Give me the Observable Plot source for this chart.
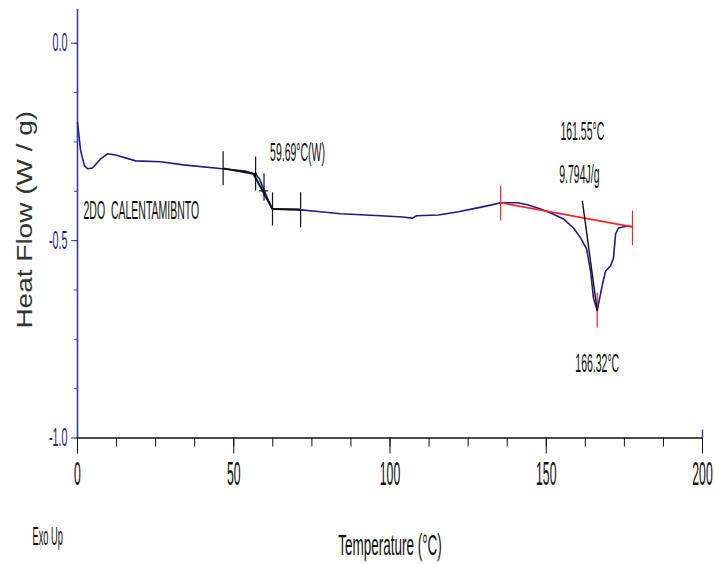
<!DOCTYPE html>
<html>
<head>
<meta charset="utf-8">
<script src="https://cdn.jsdelivr.net/npm/d3@7"></script>
<script src="https://cdn.jsdelivr.net/npm/@observablehq/plot@0.6"></script>
<style>
  body { margin: 0; background: #fff; }
</style>
</head>
<body>
<script>
// DSC second heating run: temperature (°C) vs heat flow (W/g)
const temperature = [
  0, 1.0, 2.2, 3.2, 4.8, 7.4, 9.6, 12.2, 18.6, 26.6, 33.9, 46.4, 53.8, 57.0, 58.2,
  59.7, 61.1, 62.4, 71.4, 77.8, 84.2, 97.0, 104.0, 107.2, 108.5, 115.5, 121.9, 128.0,
  132.2, 135.4, 140.8, 144.0, 148.2, 151.4, 155.5, 158.7, 161.0, 162.9, 164.2, 165.1,
  166.32, 166.7, 168.0, 169.0, 170.6, 171.5, 172.2, 173.1, 176.0, 177.6
];
const heatFlow = [
  -0.201, -0.272, -0.310, -0.318, -0.316, -0.293, -0.280, -0.283, -0.298, -0.300, -0.308, -0.318, -0.324, -0.332, -0.343,
  -0.372, -0.399, -0.420, -0.422, -0.427, -0.432, -0.437, -0.440, -0.443, -0.437, -0.435, -0.427, -0.417,
  -0.410, -0.404, -0.404, -0.409, -0.420, -0.430, -0.445, -0.468, -0.493, -0.521, -0.577, -0.645,
  -0.678, -0.661, -0.610, -0.577, -0.564, -0.544, -0.483, -0.468, -0.463, -0.465
];

// Axis ticks
const xMajor = [0, 50, 100, 150, 200];
const xMinor = d3.range(0, 200.1, 12.5);
const yMajor = [0, -0.5, -1.0];
const yMinor = d3.range(0, -1.01, -0.125);

// Glass transition analysis (half-height method)
const tgValue = 59.69;
const tgMidHF = -0.374;
const tgCursorT = [46.6, 57.0, 62.4, 71.4];
const tgCursorHigh = [-0.275, -0.288, -0.379, -0.379];
const tgCursorLow = [-0.361, -0.374, -0.463, -0.468];
const tgLineT1 = [46.6, 56.3, 62.4];
const tgLineHF1 = [-0.317, -0.331, -0.420];
const tgLineT2 = [57.3, 62.4, 71.4];
const tgLineHF2 = [-0.332, -0.420, -0.421];
const tgCrossHigh = -0.331, tgCrossLow = -0.400, tgCrossLeft = 58.2, tgCrossRight = 61.2;

// Melting peak integration
const baselineT = [135.4, 177.6];
const baselineHF = [-0.404, -0.465];
const limitHigh = [-0.362, -0.425];
const limitLow = [-0.450, -0.513];
const onsetT = 161.55;
const onsetTopHF = -0.399;
const peakT = 166.32;
const peakHF = -0.678;
const peakTickHigh = -0.633, peakTickLow = -0.722;
const enthalpy = 9.794;

const curve = temperature.map((t, i) => ({t, hf: heatFlow[i]}));
const tgCursors = tgCursorT.map((t, i) => ({t, hi: tgCursorHigh[i], lo: tgCursorLow[i]}));
const tgLines = tgLineT1.map((t, i) => ({x1: t, y1: tgLineHF1[i], x2: tgLineT2[i], y2: tgLineHF2[i]}));
const limits = baselineT.map((t, i) => ({t, hi: limitHigh[i], lo: limitLow[i]}));
const onsetBaseHF = baselineHF[0] + (onsetT - baselineT[0]) / (baselineT[1] - baselineT[0]) * (baselineHF[1] - baselineHF[0]);

const navy = "#1c1c8e";
const axisBlue = "#3a3aa6";
const ink = "#111";
const red = "#ff2222";

const chart = Plot.plot({
  width: 715,
  height: 564,
  marginLeft: 77,
  marginRight: 13,
  marginTop: 9,
  marginBottom: 126.5,
  x: {domain: [0, 200]},
  y: {domain: [-1, 0.0855]},
  style: {fontFamily: "'Liberation Sans', Arial, sans-serif", background: "#fff", overflow: "visible"},
  marks: [
    // axes
    Plot.ruleX([0], {stroke: axisBlue, strokeWidth: 1.6}),
    Plot.ruleY([-1], {stroke: ink, strokeWidth: 1.6}),
    Plot.axisY(yMajor, {tickSize: 6, stroke: axisBlue, tickFormat: () => "", label: null}),
    Plot.axisY(yMinor, {tickSize: 3, stroke: axisBlue, tickFormat: () => "", label: null}),
    Plot.axisX(xMajor, {tickSize: 16, stroke: ink, tickFormat: () => "", label: null}),
    Plot.axisX(xMinor, {tickSize: 9, stroke: ink, tickFormat: () => "", label: null}),
    Plot.ruleX([200], {y1: -1, y2: -1, insetTop: -8, stroke: axisBlue, strokeWidth: 1.4}),
    Plot.text(yMajor, {y: d => d, frameAnchor: "left", dx: -10, textAnchor: "end", lineAnchor: "middle",
      text: d => d.toFixed(1), fill: navy, fontSize: 25, className: "ytl"}),
    Plot.text(xMajor, {x: d => d, frameAnchor: "bottom", dy: 36.5, lineAnchor: "middle",
      text: d => String(d), fill: ink, fontSize: 34, className: "xtl"}),
    Plot.text(["Temperature (°C)"], {frameAnchor: "bottom", dy: 107.5, textAnchor: "middle", lineAnchor: "middle",
      fill: ink, fontSize: 30, className: "xlab"}),
    Plot.text(["Exo Up"], {frameAnchor: "bottom-left", dx: -45, dy: 99, textAnchor: "start", lineAnchor: "middle",
      fill: ink, fontSize: 25, className: "exo"}),
    Plot.text(["Heat Flow (W / g)"], {frameAnchor: "left", dx: -53, dy: -4, rotate: -90,
      textAnchor: "middle", lineAnchor: "middle", fill: "#333", fontSize: 28, className: "ylab"}),

    // heat flow curve
    Plot.line(curve, {x: "t", y: "hf", stroke: navy, strokeWidth: 1.6}),

    // glass transition construction
    Plot.link(tgLines, {x1: "x1", y1: "y1", x2: "x2", y2: "y2", stroke: ink, strokeWidth: 2}),
    Plot.ruleX(tgCursors, {x: "t", y1: "hi", y2: "lo", stroke: ink, strokeWidth: 1.2}),
    Plot.ruleX([tgValue], {y1: tgCrossHigh, y2: tgCrossLow, stroke: ink, strokeWidth: 1.2}),
    Plot.ruleY([tgMidHF], {x1: tgCrossLeft, x2: tgCrossRight, stroke: ink, strokeWidth: 1.2}),
    Plot.text([`${tgValue}°C(W)`], {x: tgValue, y: tgMidHF, dx: 6, dy: -38, textAnchor: "start", lineAnchor: "middle",
      fill: ink, fontSize: 25, className: "note"}),

    // melting peak construction
    Plot.link([0], {x1: baselineT[0], y1: baselineHF[0], x2: baselineT[1], y2: baselineHF[1], stroke: red, strokeWidth: 1.8}),
    Plot.ruleX(limits, {x: "t", y1: "hi", y2: "lo", stroke: red, strokeWidth: 1.2}),
    Plot.ruleX([peakT], {y1: peakTickHigh, y2: peakTickLow, stroke: red, strokeWidth: 1.2}),
    Plot.link([0], {x1: onsetT, y1: onsetTopHF, x2: peakT, y2: peakHF, stroke: ink, strokeWidth: 1.4}),
    Plot.text([`${onsetT}°C`], {x: onsetT, y: onsetBaseHF, dy: -86, textAnchor: "middle", lineAnchor: "middle",
      fill: ink, fontSize: 25, className: "note"}),
    Plot.text([`${enthalpy}J/g`], {x: onsetT, y: onsetBaseHF, dx: -3, dy: -43, textAnchor: "middle", lineAnchor: "middle",
      fill: ink, fontSize: 25, className: "note"}),
    Plot.text([`${peakT}°C`], {x: peakT, y: peakHF, dy: 53, textAnchor: "middle", lineAnchor: "middle",
      fill: ink, fontSize: 25, className: "note"}),

    // run label
    Plot.text(["2DO  CALENTAMIBNTO"], {frameAnchor: "left", dx: 6, dy: -13, textAnchor: "start", lineAnchor: "middle",
      fill: ink, fontSize: 25, className: "calent"})
  ]
});

document.body.append(chart);

// condensed lettering: squeeze each label horizontally
const squeeze = {xtl: 0.36, ytl: 0.43, note: 0.42, calent: 0.42, xlab: 0.45, exo: 0.37};
for (const [cls, k] of Object.entries(squeeze)) {
  chart.querySelectorAll(`.${cls} text`).forEach(t => {
    const len = t.getComputedTextLength();
    if (len > 0) {
      t.setAttribute("textLength", (len * k).toFixed(1));
      t.setAttribute("lengthAdjust", "spacingAndGlyphs");
    }
  });
}
chart.querySelectorAll(".ylab text").forEach(t => {
  t.setAttribute("transform", (t.getAttribute("transform") || "") + " scale(1,0.8)");
});
</script>
</body>
</html>
